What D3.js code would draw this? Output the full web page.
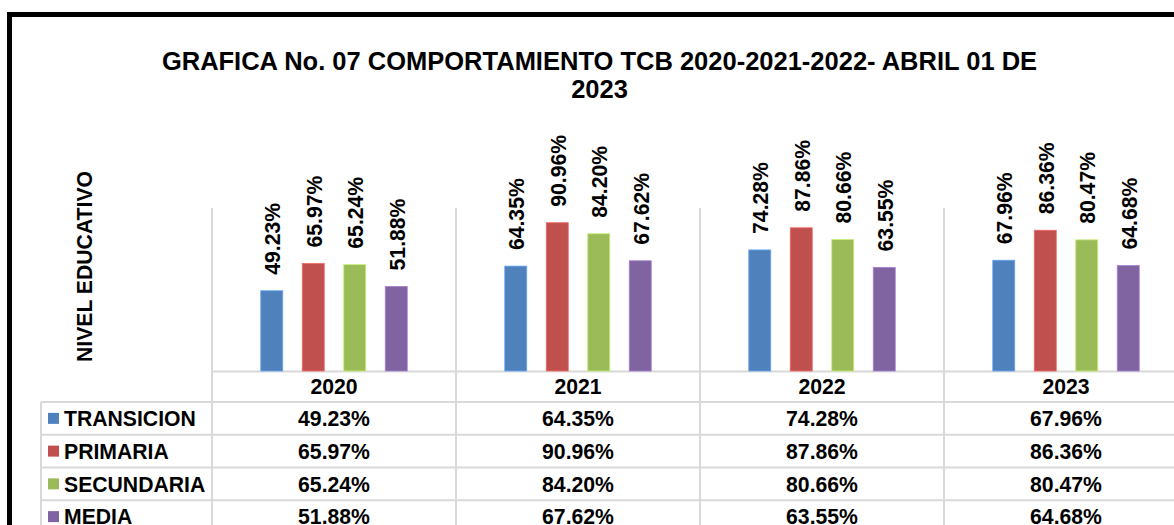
<!DOCTYPE html>
<html><head><meta charset="utf-8">
<script src="https://cdn.jsdelivr.net/npm/d3@7"></script>
<style>body{margin:0;background:#fff}svg{display:block}text{font-family:"Liberation Sans",Arial,sans-serif;font-weight:bold;fill:#000}</style>
</head><body><svg id="c" width="1174" height="525"></svg>
<script>
const years = ["2020","2021","2022","2023"];
const series = ["TRANSICION","PRIMARIA","SECUNDARIA","MEDIA"];
const colors = ["#4F81BD","#C0504D","#9BBB59","#8064A2"];
const transicion = [49.23,64.35,74.28,67.96];
const primaria = [65.97,90.96,87.86,86.36];
const secundaria = [65.24,84.20,80.66,80.47];
const media = [51.88,67.62,63.55,64.68];
const values = [transicion,primaria,secundaria,media];

const svg = d3.select("#c");
const grid = "#d9d9d9";
const fs = 21.2;
// frame
svg.append("path").attr("d","M9.5,600 V14.5 H1300").attr("fill","none").attr("stroke","#000").attr("stroke-width",5);

// title
const title = svg.append("text").attr("text-anchor","middle").attr("font-size",25.5);
title.append("tspan").attr("x",599.5).attr("y",70).text("GRAFICA No. 07 COMPORTAMIENTO TCB 2020-2021-2022- ABRIL 01 DE");
title.append("tspan").attr("x",599.5).attr("y",98).text("2023");

// y label
svg.append("text").attr("transform","translate(91.5,266.5) rotate(-90)").attr("text-anchor","middle")
  .attr("font-size",fs).text("NIVEL EDUCATIVO");

const x = d3.scaleBand().domain(years).range([212,1188]);
const xi = d3.scaleBand().domain(series).range([0,x.bandwidth()]).paddingInner(0.47).paddingOuter(1.175);
const y = d3.scaleLinear().domain([0,100]).range([371,208]);

const rowTop = 402, rowH = 32.75, hdrTop = 371.5;
const tableBottom = rowTop + rowH*series.length;

// vertical grid lines (category boundaries)
years.forEach(yr=>{
  svg.append("line").attr("x1",x(yr)).attr("x2",x(yr)).attr("y1",y(100)).attr("y2",tableBottom+20)
    .attr("stroke",grid).attr("stroke-width",2);
});
svg.append("line").attr("x1",41).attr("x2",41).attr("y1",rowTop).attr("y2",tableBottom+20).attr("stroke",grid).attr("stroke-width",2);
// horizontal
svg.append("line").attr("x1",212).attr("x2",1200).attr("y1",hdrTop).attr("y2",hdrTop).attr("stroke",grid).attr("stroke-width",2);
for(let i=0;i<=series.length;i++){
  svg.append("line").attr("x1",41).attr("x2",1200).attr("y1",rowTop+i*rowH).attr("y2",rowTop+i*rowH).attr("stroke",grid).attr("stroke-width",2);
}

// bars
series.forEach((s,si)=>{
  const g = svg.append("g");
  years.forEach((yr,yi)=>{
    const v = values[si][yi];
    const bx = x(yr)+xi(s);
    g.append("rect").attr("x",bx).attr("y",y(v)).attr("width",xi.bandwidth()).attr("height",y(0)-y(v))
      .attr("fill",colors[si]).attr("stroke",d3.color(colors[si]).brighter(0.7)).attr("stroke-width",0.8);
    g.append("text").attr("transform",`translate(${bx+xi.bandwidth()/2+1},${y(v)-16}) rotate(-90)`)
      .attr("dy","0.36em").attr("font-size",fs).text(v.toFixed(2)+"%");
  });
});

// table header
years.forEach(yr=>{
  svg.append("text").attr("x",x(yr)+x.bandwidth()/2).attr("y",(hdrTop+rowTop)/2).attr("dy","0.36em")
    .attr("text-anchor","middle").attr("font-size",fs).text(yr);
});
// rows
series.forEach((s,si)=>{
  const cy = rowTop + rowH*si + rowH/2;
  svg.append("rect").attr("x",48).attr("y",cy-5.5).attr("width",11).attr("height",11).attr("fill",colors[si]);
  svg.append("text").attr("x",64).attr("y",cy).attr("dy","0.36em").attr("font-size",fs).text(s);
  years.forEach((yr,yi)=>{
    svg.append("text").attr("x",x(yr)+x.bandwidth()/2).attr("y",cy).attr("dy","0.36em")
      .attr("text-anchor","middle").attr("font-size",fs).text(values[si][yi].toFixed(2)+"%");
  });
});
</script></body></html>
